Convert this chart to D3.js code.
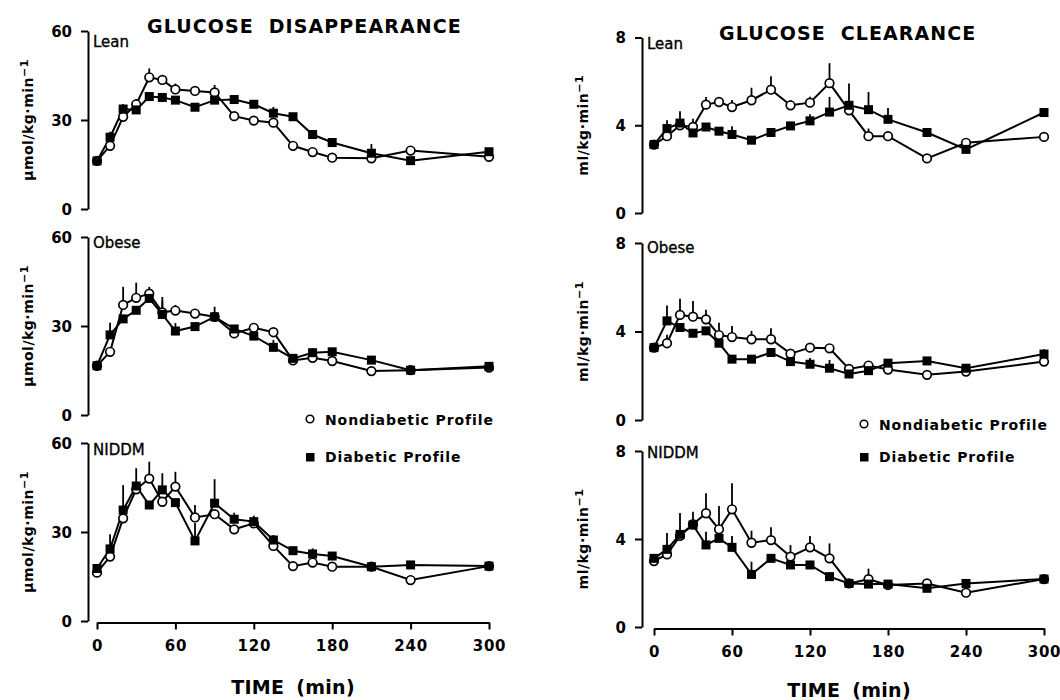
<!DOCTYPE html>
<html lang="en">
<head>
<meta charset="utf-8">
<title>Glucose disappearance and clearance</title>
<script src="https://cdn.jsdelivr.net/npm/d3@7/dist/d3.min.js"></script>
<style>
  body { margin: 0; background: #fff; }
  svg { display: block; }
  text { font-family: "DejaVu Sans", sans-serif; fill: #000; font-weight: bold; }
  .axis path, .axis line { stroke: #000; stroke-width: 2; }
  .axis text { font-size: 14px; font-weight: bold; }
</style>
</head>
<body>
<svg id="chart" width="1060" height="700"></svg>
<script>
// sampling times (min)
const times = [0, 10, 20, 30, 40, 50, 60, 75, 90, 105, 120, 135, 150, 165, 180, 210, 240, 300];
const xTicks = [0, 60, 120, 180, 240, 300];
const disTicks = [0, 30, 60];
const clrTicks = [0, 4, 8];

// glucose disappearance (umol/kg/min)
const leanDisNon = [16.2, 21.3, 31.1, 35.3, 44.4, 43.5, 40.3, 39.8, 39.3, 31.3, 29.8, 29.1, 21.3, 19.2, 17.3, 17.1, 19.7, 17.6];
const leanDisDia = [16.2, 24.2, 33.7, 33.4, 37.9, 37.6, 36.7, 34.3, 36.7, 36.9, 35.3, 32.3, 31.1, 25.1, 22.4, 18.8, 16.3, 19.3];
const leanDisNonTop = [null, null, 32.5, 37.1, 47.4, null, 42.3, 41.2, 41.8, null, null, null, 22.7, null, null, null, null, null];
const leanDisDiaTop = [null, 26, 35.4, null, null, null, 38, null, null, null, null, 34.4, null, null, null, 21.9, null, null];

const obeseDisNon = [16.6, 21.3, 37.1, 39.5, 40.9, 34.6, 35.2, 34.2, 33.1, 27.5, 29.4, 27.9, 18.4, 19.3, 18.2, 14.8, 15.1, 16.0];
const obeseDisDia = [16.6, 27.0, 32.4, 35.3, 39.3, 33.9, 28.3, 29.8, 33.1, 29.0, 26.6, 22.8, 19.1, 21.0, 21.3, 18.5, 15.1, 16.4];
const obeseDisNonTop = [null, null, 43.2, 44.6, 43.2, 39.8, 37.1, null, null, null, 30.8, null, null, null, null, null, null, null];
const obeseDisDiaTop = [null, 31.1, null, null, null, 38.5, 31, null, 36.5, null, null, 25.3, null, 22.5, null, null, null, null];

const niddmDisNon = [16.3, 21.7, 34.6, 44.4, 48.0, 40.2, 45.3, 34.9, 36.0, 30.9, 32.9, 25.3, 18.5, 19.7, 18.3, 18.3, 13.8, 18.5];
const niddmDisDia = [17.7, 24.3, 37.4, 45.5, 39.1, 44.2, 39.9, 27.0, 39.7, 34.3, 33.5, 27.3, 23.7, 22.6, 21.9, 18.3, 18.9, 18.5];
const niddmDisNonTop = [null, null, null, null, 53.7, null, 50.3, 39.1, null, null, null, null, null, null, null, null, null, null];
const niddmDisDiaTop = [null, 29.2, 45.8, 51.5, null, 49.8, null, 33, 47.8, 36.5, 35.5, 29, null, 24.5, null, null, null, null];

// glucose clearance (ml/kg/min)
const leanClrNon = [3.12, 3.5, 4.0, 3.92, 4.94, 5.06, 4.83, 5.14, 5.62, 4.91, 5.03, 5.92, 4.68, 3.5, 3.5, 2.49, 3.2, 3.47];
const leanClrDia = [3.12, 3.85, 4.1, 3.65, 3.92, 3.73, 3.58, 3.32, 3.67, 3.97, 4.2, 4.6, 4.91, 4.71, 4.27, 3.67, 2.9, 4.58];
const leanClrNonTop = [null, null, null, 4.3, 5.29, 5.25, 5.15, 5.71, 6.23, 5.15, 5.3, 6.83, null, 3.85, null, null, null, null];
const leanClrDiaTop = [null, 4.23, 4.64, null, null, null, 3.95, null, null, null, 4.5, 5.29, 5.9, 5.52, 4.79, null, null, null];

const obeseClrNon = [3.27, 3.47, 4.75, 4.67, 4.55, 3.84, 3.75, 3.65, 3.65, 3.0, 3.27, 3.24, 2.31, 2.46, 2.28, 2.04, 2.19, 2.64];
const obeseClrDia = [3.27, 4.48, 4.18, 3.92, 4.03, 3.47, 2.75, 2.75, 3.05, 2.64, 2.52, 2.34, 2.08, 2.23, 2.57, 2.67, 2.34, 2.98];
const obeseClrNonTop = [null, 3.85, 5.48, 5.38, 4.98, 4.4, 4.25, 4.03, 4.15, 3.2, null, null, null, null, null, null, null, null];
const obeseClrDiaTop = [null, 5.17, null, null, null, null, null, null, null, null, 2.8, 2.71, 2.4, null, null, null, null, 3.2];

const niddmClrNon = [3.0, 3.3, 4.14, 4.67, 5.17, 4.44, 5.35, 3.83, 3.95, 3.2, 3.62, 3.12, 1.98, 2.17, 1.91, 1.98, 1.56, 2.18];
const niddmClrDia = [3.12, 3.53, 4.21, 4.64, 3.73, 4.03, 3.62, 2.39, 3.12, 2.82, 2.82, 2.29, 1.98, 1.95, 1.95, 1.76, 1.98, 2.18];
const niddmClrNonTop = [null, null, null, 5.24, 6.08, null, 6.53, 4.38, 4.53, 3.73, 4.14, 3.8, null, 2.65, null, null, null, null];
const niddmClrDiaTop = [null, 4.27, 5.18, null, 4.33, 5.5, 4.14, 2.97, null, null, null, null, null, null, null, null, null, null];

const svg = d3.select("#chart");

// layout of the six panels
const cols = [
  { axisX: 88, x0: 97, x1: 489, max: 60, ticks: disTicks, unit: "μmol/kg·min", labX: 33 },
  { axisX: 642, x0: 654, x1: 1044, max: 8, ticks: clrTicks, unit: "ml/kg·min", labX: 588 }
];
const rows = [
  [{ top: 31, bottom: 209, name: "Lean", dy: 16 }, { top: 37.5, bottom: 213, name: "Lean", dy: 11 }],
  [{ top: 237, bottom: 415, name: "Obese", dy: 11 }, { top: 243, bottom: 420, name: "Obese", dy: 10 }],
  [{ top: 443, bottom: 621, name: "NIDDM", dy: 12 }, { top: 451, bottom: 627, name: "NIDDM", dy: 7 }]
];
const series = [
  [[leanDisNon, leanDisNonTop, leanDisDia, leanDisDiaTop], [leanClrNon, leanClrNonTop, leanClrDia, leanClrDiaTop]],
  [[obeseDisNon, obeseDisNonTop, obeseDisDia, obeseDisDiaTop], [obeseClrNon, obeseClrNonTop, obeseClrDia, obeseClrDiaTop]],
  [[niddmDisNon, niddmDisNonTop, niddmDisDia, niddmDisDiaTop], [niddmClrNon, niddmClrNonTop, niddmClrDia, niddmClrDiaTop]]
];

rows.forEach((row, r) => {
  row.forEach((p, c) => {
    const col = cols[c];
    const x = d3.scaleLinear().domain([0, 300]).range([col.x0, col.x1]);
    const y = d3.scaleLinear().domain([0, col.max]).range([p.bottom, p.top]);
    const g = svg.append("g");

    g.append("g")
      .attr("class", "axis")
      .attr("transform", "translate(" + col.axisX + ",0)")
      .call(d3.axisLeft(y).tickValues(col.ticks).tickSize(7).tickSizeOuter(0).tickPadding(9))
      .selectAll("text").attr("dy", "0.36em").style("font-size", "15px");

    if (r == 2) {
      const xa = g.append("g")
        .attr("class", "axis")
        .attr("transform", "translate(0," + (p.bottom + 1.5) + ")")
        .call(d3.axisBottom(x).tickValues(xTicks).tickSize(7).tickSizeOuter(0).tickPadding(11));
      xa.selectAll("text").style("font-size", "15px").style("letter-spacing", "0.8px");
      g.append("text")
        .attr("x", (col.x0 + col.x1) / 2)
        .attr("y", c == 1 ? 697 : 694)
        .attr("text-anchor", "middle")
        .style("font-size", "19px")
        .style("letter-spacing", "0.3px")
        .style("word-spacing", "5px")
        .text("TIME (min)");
    }

    // y label
    const yl = g.append("text")
      .attr("transform", "translate(" + col.labX + "," + ((p.top + p.bottom) / 2) + ") rotate(-90)")
      .attr("text-anchor", "middle")
      .style("font-size", "14px")
      .style("letter-spacing", "0.5px");
    yl.append("tspan").text(col.unit);
    yl.append("tspan").attr("dy", "-0.45em").style("font-size", "11px").text("−1");

    g.append("text")
      .attr("x", col.axisX + 5)
      .attr("y", p.top + p.dy)
      .style("font-size", "15px")
      .style("font-weight", "normal")
      .style("stroke", "#000").style("stroke-width", 0.35)
      .text(p.name);

    const [non, nonTop, dia, diaTop] = series[r][c];
    const line = d3.line().x((d, i) => x(times[i])).y(d => y(d));

    [non, dia].forEach(s => {
      g.append("path")
        .datum(s)
        .attr("d", line)
        .attr("fill", "none")
        .attr("stroke", "#000")
        .attr("stroke-width", 2);
    });

    [[non, nonTop], [dia, diaTop]].forEach(([s, top]) => {
      g.selectAll(null)
        .data(top.map((t, i) => ({ t: t, v: s[i], i: i })).filter(d => d.t != null))
        .enter().append("line")
        .attr("x1", d => x(times[d.i])).attr("x2", d => x(times[d.i]))
        .attr("y1", d => y(d.v)).attr("y2", d => y(d.t))
        .attr("stroke", "#000").attr("stroke-width", 1.8);
    });

    g.selectAll(null)
      .data(non).enter().append("circle")
      .attr("cx", (d, i) => x(times[i]))
      .attr("cy", d => y(d))
      .attr("r", 4.3)
      .attr("fill", "#fff")
      .attr("stroke", "#000")
      .attr("stroke-width", 1.7);

    g.selectAll(null)
      .data(dia).enter().append("rect")
      .attr("x", (d, i) => x(times[i]) - 4.5)
      .attr("y", d => y(d) - 4.5)
      .attr("width", 9)
      .attr("height", 9)
      .attr("fill", "#000");

    // legend
    if (r == 1) {
      g.append("circle")
        .attr("cx", col.axisX + 222).attr("cy", p.bottom + 4)
        .attr("r", 3.8).attr("fill", "#fff").attr("stroke", "#000").attr("stroke-width", 1.6);
      g.append("text")
        .attr("x", col.axisX + 237).attr("y", p.bottom + 9.5)
        .style("font-size", "14px").style("letter-spacing", "0.9px")
        .text("Nondiabetic Profile");
    }
    if (r == 2) {
      g.append("rect")
        .attr("x", col.axisX + 218).attr("y", p.top + (c == 1 ? 2 : 10))
        .attr("width", 8.5).attr("height", 8.5).attr("fill", "#000");
      g.append("text")
        .attr("x", col.axisX + 237).attr("y", p.top + (c == 1 ? 11 : 19))
        .style("font-size", "14px").style("letter-spacing", "0.9px")
        .text("Diabetic Profile");
    }
  });
});

// titles
svg.append("text")
  .attr("x", 147).attr("y", 33)
  .style("font-size", "19px").style("letter-spacing", "1.1px").style("word-spacing", "7px")
  .text("GLUCOSE DISAPPEARANCE");
svg.append("text")
  .attr("x", 719).attr("y", 40)
  .style("font-size", "19px").style("letter-spacing", "1.1px").style("word-spacing", "7px")
  .text("GLUCOSE CLEARANCE");
</script>
</body>
</html>
